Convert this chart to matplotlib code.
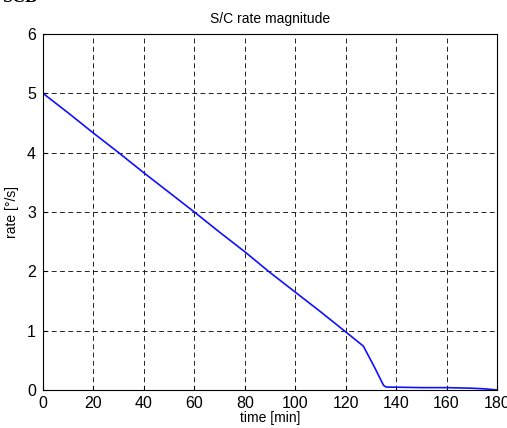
import matplotlib
matplotlib.use('Agg')
from matplotlib import pyplot as plt

time_min = [0, 10, 20, 30, 40, 50, 60, 70, 80, 90, 100, 110, 120, 127, 131, 135, 136, 150, 160, 170, 175, 180]
rate = [5.0, 4.67, 4.33, 4.0, 3.66, 3.33, 3.0, 2.66, 2.33, 1.98, 1.65, 1.32, 0.98, 0.74, 0.42, 0.08, 0.05, 0.04, 0.04, 0.03, 0.02, 0.0]

xticks = [0, 20, 40, 60, 80, 100, 120, 140, 160, 180]
yticks = [0, 1, 2, 3, 4, 5, 6]

plt.rcParams['font.family'] = ['Liberation Sans', 'DejaVu Sans']

fig = plt.figure(figsize=(5.07, 4.28), dpi=100)
ax = fig.add_axes([43 / 507, 38 / 428, 454 / 507, 356 / 428])

ax.plot(time_min, rate, color='#1010ff', linewidth=1.2)

ax.set_xlim(0, 180)
ax.set_ylim(0, 6)
ax.set_xticks(xticks)
ax.set_yticks(yticks)
ax.grid(True, color='#222222', linestyle=(0, (5, 3.5)), linewidth=0.7)
ax.tick_params(direction='in', length=3, labelsize=11.5, pad=4)
ax.tick_params(axis='y', pad=5)
for s in ax.spines.values():
    s.set_linewidth(0.8)

ax.set_title('S/C rate magnitude', fontsize=10, pad=8)
ax.set_xlabel('time [min]', fontsize=10, labelpad=0)
ax.set_ylabel('rate [°/s]', fontsize=10, labelpad=6)

# cut-off heading at the top of the page
fig.text(0.005, 1.005, 'SCB', fontsize=13, fontweight='bold', family='Liberation Serif', va='center', ha='left')

plt.savefig('out.png', dpi=100)
